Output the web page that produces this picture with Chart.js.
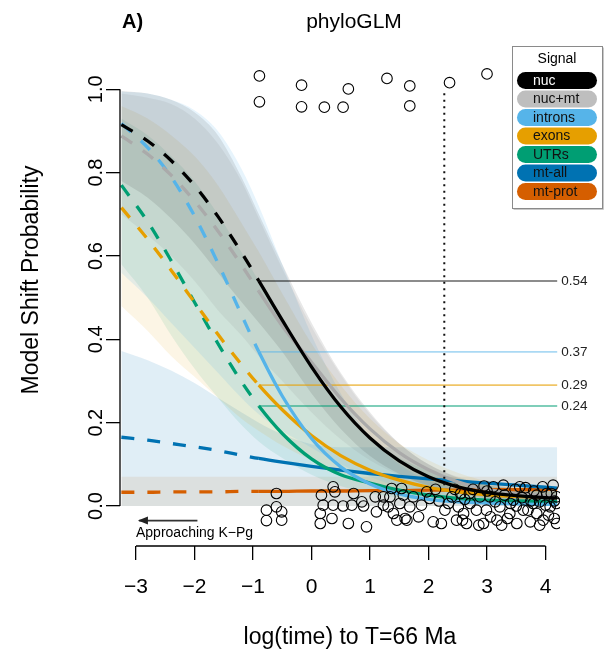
<!DOCTYPE html>
<html>
<head>
<meta charset="utf-8">
<title>phyloGLM</title>
<script src="https://cdn.jsdelivr.net/npm/chart.js@4.4.0/dist/chart.umd.min.js"></script>
<style>
  html, body { margin: 0; padding: 0; background: #fff; }
  #wrap { width: 605px; height: 662px; }
</style>
</head>
<body>
<div id="wrap"><canvas id="shiftChart" width="605" height="662"></canvas></div>
<script>
// ✅ Data
const timeGrid = [-3.25, -2.8, -2.4, -2.0, -1.6, -1.2, -0.9, -0.5, 0, 0.5, 1, 1.5, 2, 2.5, 3, 3.5, 4, 4.2];

const signals = ['nuc', 'nuc+mt', 'introns', 'exons', 'UTRs', 'mt-all', 'mt-prot'];

const nucProb    = [0.915, 0.876, 0.829, 0.769, 0.695, 0.609, 0.540, 0.446, 0.334, 0.238, 0.163, 0.108, 0.070, 0.046, 0.032, 0.025, 0.020, 0.019];
const nucMtProb  = [0.888, 0.844, 0.794, 0.732, 0.660, 0.579, 0.515, 0.432, 0.345, 0.258, 0.185, 0.128, 0.087, 0.058, 0.040, 0.030, 0.025, 0.024];
const intronProb = [0.918, 0.860, 0.790, 0.696, 0.583, 0.460, 0.370, 0.264, 0.162, 0.094, 0.053, 0.029, 0.016, 0.010, 0.007, 0.005, 0.004, 0.004];
const exonProb   = [0.716, 0.640, 0.566, 0.489, 0.412, 0.340, 0.290, 0.231, 0.169, 0.121, 0.086, 0.062, 0.045, 0.034, 0.027, 0.023, 0.021, 0.020];
const utrProb    = [0.770, 0.682, 0.589, 0.489, 0.390, 0.299, 0.240, 0.174, 0.113, 0.075, 0.055, 0.038, 0.026, 0.018, 0.014, 0.012, 0.011, 0.011];
const mtAllProb  = [0.165, 0.158, 0.150, 0.142, 0.133, 0.122, 0.114, 0.105, 0.095, 0.086, 0.078, 0.071, 0.065, 0.060, 0.055, 0.050, 0.045, 0.043];
const mtProtProb = [0.033, 0.033, 0.034, 0.034, 0.034, 0.035, 0.035, 0.035, 0.036, 0.036, 0.037, 0.037, 0.038, 0.038, 0.039, 0.039, 0.040, 0.040];

// ✅ Confidence bands (upper / lower)
const nucUpper    = [0.996, 0.990, 0.975, 0.945, 0.890, 0.790, 0.700, 0.580, 0.440, 0.320, 0.225, 0.150, 0.100, 0.068, 0.050, 0.043, 0.040, 0.039];
const nucLower    = [0.780, 0.740, 0.690, 0.630, 0.560, 0.490, 0.440, 0.370, 0.270, 0.185, 0.120, 0.077, 0.048, 0.030, 0.019, 0.012, 0.008, 0.007];
const nucMtUpper  = [0.990, 0.980, 0.965, 0.930, 0.870, 0.780, 0.690, 0.570, 0.430, 0.315, 0.220, 0.150, 0.100, 0.070, 0.052, 0.044, 0.040, 0.039];
const nucMtLower  = [0.700, 0.650, 0.600, 0.540, 0.470, 0.410, 0.360, 0.300, 0.225, 0.160, 0.110, 0.075, 0.050, 0.034, 0.023, 0.016, 0.012, 0.011];
const intronUpper = [0.995, 0.990, 0.975, 0.950, 0.900, 0.810, 0.720, 0.580, 0.410, 0.270, 0.165, 0.100, 0.060, 0.040, 0.030, 0.025, 0.020, 0.020];
const intronLower = [0.560, 0.500, 0.440, 0.380, 0.320, 0.260, 0.220, 0.180, 0.140, 0.100, 0.070, 0.045, 0.030, 0.020, 0.013, 0.009, 0.006, 0.005];
const exonUpper   = [0.960, 0.930, 0.890, 0.840, 0.770, 0.680, 0.610, 0.510, 0.390, 0.290, 0.210, 0.150, 0.110, 0.080, 0.060, 0.050, 0.045, 0.040];
const exonLower   = [0.480, 0.420, 0.360, 0.310, 0.260, 0.210, 0.180, 0.145, 0.110, 0.080, 0.055, 0.040, 0.028, 0.020, 0.014, 0.010, 0.007, 0.006];
const utrUpper    = [0.930, 0.890, 0.840, 0.780, 0.700, 0.610, 0.540, 0.440, 0.330, 0.235, 0.165, 0.115, 0.085, 0.065, 0.050, 0.040, 0.035, 0.033];
const utrLower    = [0.580, 0.500, 0.410, 0.330, 0.260, 0.195, 0.155, 0.115, 0.075, 0.048, 0.030, 0.020, 0.013, 0.009, 0.006, 0.005, 0.004, 0.004];
const mtAllUpper  = [0.372, 0.350, 0.325, 0.295, 0.260, 0.225, 0.200, 0.172, 0.148, 0.141, 0.141, 0.141, 0.141, 0.141, 0.141, 0.141, 0.141, 0.141];
const mtAllLower  = [0, 0, 0, 0, 0, 0, 0, 0, 0, 0, 0, 0, 0, 0, 0, 0, 0, 0];
const mtProtUpper = [0.07, 0.07, 0.07, 0.07, 0.07, 0.07, 0.07, 0.07, 0.07, 0.07, 0.07, 0.07, 0.07, 0.07, 0.07, 0.07, 0.07, 0.07];
const mtProtLower = [0, 0, 0, 0, 0, 0, 0, 0, 0, 0, 0, 0, 0, 0, 0, 0, 0, 0];

// ✅ Shift probabilities at the cutoff time
const cutoffTime = -0.9;
const cutoffEnd = 4.2;
const cutoffProbs = [0.54, 0.37, 0.29, 0.24];
const cutoffLabels = ['0.54', '0.37', '0.29', '0.24'];

// ✅ Dotted marker line
const markerTime = 2.27;
const markerRange = [0.05, 1.0];

// ✅ Observed shifts (1 = shift, 0 = no shift, jittered)
const shiftTimes = [
  -0.89, -0.89, -0.17, -0.17, 0.22, 0.54, 0.63, 1.29, 1.68, 1.68, 2.36, 3.00,
  -0.60, -0.77, -0.60, -0.51, -0.77, -0.51,
  0.17, 0.37, 0.40, 0.20, 0.15, 0.37, 0.54, 0.69, 0.86, 0.89, 0.15, 0.35, 0.63, 0.94, 0.72,
  1.09, 1.23, 1.11, 1.23, 1.37, 1.54, 1.57, 1.40, 1.46, 1.60, 1.68, 1.74, 1.34, 1.51, 1.31, 1.63, 1.83, 1.97,
  2.08, 2.22, 2.28, 2.34, 2.40, 2.48, 2.51, 2.60, 2.65, 2.71, 2.82, 2.94, 2.99, 3.05, 3.11, 3.17,
  3.22, 3.28, 3.39, 3.45, 3.51, 3.56, 3.62, 3.74, 3.79, 3.85, 3.96, 4.02, 4.08, 4.13, 4.19, 4.19, 4.19,
  1.88, 2.02, 2.12, 2.18, 2.45, 2.55, 2.62, 2.76, 2.88, 3.00, 3.14, 3.30, 3.35, 3.48, 3.60, 3.70,
  3.80, 3.90, 3.95, 4.05, 4.10, 4.15, 2.58, 2.86, 3.06, 3.25, 3.50, 3.75, 3.90, 4.15, 2.70, 2.95,
  3.40, 3.66, 3.85, 4.00
];
const shiftProbs = [
  1.032, 0.970, 1.010, 0.958, 0.957, 0.957, 1.001, 1.026, 1.008, 0.960, 1.016, 1.037,
  0.030, -0.010, -0.002, -0.014, -0.035, -0.034,
  0.026, 0.046, 0.034, 0.002, -0.018, 0.002, 0.000, 0.002, 0.010, 0.000, -0.042, -0.030, -0.042, -0.050, 0.030,
  0.022, 0.022, -0.014, 0.002, 0.042, 0.042, 0.026, -0.018, -0.034, -0.030, -0.002, 0.022, 0.022, 0.006, -0.002, -0.034, -0.026, 0.034,
  -0.038, -0.042, -0.010, 0.006, 0.022, -0.034, -0.002, -0.018, -0.042, 0.006, -0.010, -0.042, -0.010, 0.022, 0.046, -0.034,
  -0.002, 0.050, -0.018, 0.014, -0.042, 0.046, -0.010, -0.038, 0.006, -0.018, -0.034, 0.030, -0.002, 0.050, 0.022, -0.042, 0.006,
  0.002, 0.018, 0.040, 0.012, 0.040, 0.030, 0.016, 0.040, 0.022, 0.036, 0.010, 0.026, -0.030, 0.040, 0.020, -0.010,
  0.036, 0.010, 0.046, -0.022, 0.030, -0.030, -0.034, -0.046, -0.026, -0.046, 0.000, 0.012, -0.046, 0.012, 0.030, 0.048,
  0.006, 0.044, 0.026, 0.002
];

// ✅ Colours (Okabe-Ito)
const signalColors = ['#000000', '#AAAAAA', '#56B4E9', '#E69F00', '#009E73', '#0072B2', '#D55E00'];
const pillColors = ['#000000', '#BEBEBE', '#56B4E9', '#E69F00', '#009E73', '#0072B2', '#D55E00'];
const bandColors = [
  'rgba(0,0,0,0.09)', 'rgba(120,120,120,0.10)', 'rgba(86,180,233,0.14)', 'rgba(230,159,0,0.10)',
  'rgba(0,158,115,0.10)', 'rgba(0,114,178,0.12)', 'rgba(213,94,0,0.10)'
];
const cutoffColors = ['rgba(0,0,0,0.45)', 'rgba(86,180,233,0.5)', 'rgba(230,159,0,0.6)', 'rgba(0,158,115,0.5)'];

const FONT = '"Liberation Sans", Arial, Helvetica, sans-serif';

function toPoints(values) {
  return timeGrid.map((t, i) => ({ x: t, y: values[i] }));
}

function buildDatasets() {
  const sets = [];
  const probs = [nucProb, nucMtProb, intronProb, exonProb, utrProb, mtAllProb, mtProtProb];
  const uppers = [nucUpper, nucMtUpper, intronUpper, exonUpper, utrUpper, mtAllUpper, mtProtUpper];
  const lowers = [nucLower, nucMtLower, intronLower, exonLower, utrLower, mtAllLower, mtProtLower];

  // ✅ observed shifts on top
  sets.push({
    label: 'shifts',
    data: shiftTimes.map((t, i) => ({ x: t, y: shiftProbs[i] })),
    showLine: false,
    pointRadius: 5.3,
    pointBorderWidth: 1.1,
    pointBorderColor: '#000',
    pointBackgroundColor: 'rgba(0,0,0,0)',
    order: 1
  });

  // ✅ dotted marker
  sets.push({
    label: 'marker',
    data: [{ x: markerTime, y: markerRange[0] }, { x: markerTime, y: markerRange[1] }],
    borderColor: '#111',
    borderWidth: 2,
    borderDash: [2, 4.5],
    pointRadius: 0,
    order: 2
  });

  // ✅ fitted curves, dashed before the cutoff
  probs.forEach((vals, i) => {
    sets.push({
      label: signals[i],
      data: toPoints(vals),
      borderColor: signalColors[i],
      borderWidth: 3.3,
      pointRadius: 0,
      cubicInterpolationMode: 'monotone',
      segment: {
        borderDash: ctx => ctx.p1.parsed.x <= cutoffTime ? [13, 13] : undefined
      },
      order: 3 + i * 0.1
    });
  });

  // ✅ cutoff reference lines
  cutoffProbs.forEach((p, i) => {
    sets.push({
      label: 'cutoff ' + cutoffLabels[i],
      data: [{ x: cutoffTime, y: p }, { x: cutoffEnd, y: p }],
      borderColor: cutoffColors[i],
      borderWidth: 1.8,
      pointRadius: 0,
      order: 5
    });
  });

  // ✅ confidence bands
  uppers.forEach((up, i) => {
    sets.push({
      label: signals[i] + ' lower',
      data: toPoints(lowers[i]),
      borderWidth: 0,
      pointRadius: 0,
      fill: false,
      cubicInterpolationMode: 'monotone',
      order: 10
    });
    sets.push({
      label: signals[i] + ' upper',
      data: toPoints(up),
      borderWidth: 0,
      pointRadius: 0,
      fill: '-1',
      backgroundColor: bandColors[i],
      cubicInterpolationMode: 'monotone',
      order: 10
    });
  });
  return sets;
}

function pill(ctx, x, y, w, h) {
  const r = h / 2;
  ctx.beginPath();
  ctx.moveTo(x + r, y);
  ctx.lineTo(x + w - r, y);
  ctx.arc(x + w - r, y + r, r, -Math.PI / 2, Math.PI / 2);
  ctx.lineTo(x + r, y + h);
  ctx.arc(x + r, y + r, r, Math.PI / 2, Math.PI * 1.5);
  ctx.closePath();
}

const decorPlugin = {
  id: 'decor',
  beforeDraw(chart) {
    const ctx = chart.ctx;
    ctx.save();
    ctx.fillStyle = '#fff';
    ctx.fillRect(0, 0, chart.width, chart.height);
    ctx.restore();
  },
  afterDraw(chart) {
    const ctx = chart.ctx;
    const xs = chart.scales.x;
    const ys = chart.scales.y;
    const area = chart.chartArea;
    ctx.save();

    // axis lines
    ctx.strokeStyle = '#000';
    ctx.lineWidth = 1.3;
    ctx.beginPath();
    ctx.moveTo(area.left, ys.getPixelForValue(0));
    ctx.lineTo(area.left, ys.getPixelForValue(1));
    ctx.moveTo(xs.getPixelForValue(-3), area.bottom);
    ctx.lineTo(xs.getPixelForValue(4), area.bottom);
    ctx.stroke();

    // titles
    ctx.fillStyle = '#000';
    ctx.textBaseline = 'middle';
    ctx.textAlign = 'left';
    ctx.font = 'bold 20px ' + FONT;
    ctx.fillText('A)', 122, 22);
    ctx.textAlign = 'center';
    ctx.font = '21px ' + FONT;
    ctx.fillText('phyloGLM', 354, 22);
    ctx.font = '23px ' + FONT;
    ctx.fillText('log(time) to T=66 Ma', 350, 638);
    ctx.save();
    ctx.translate(32, 280);
    ctx.rotate(-Math.PI / 2);
    ctx.fillText('Model Shift Probability', 0, 0);
    ctx.restore();

    // cutoff labels
    ctx.textAlign = 'left';
    ctx.font = '13.5px ' + FONT;
    ctx.fillStyle = '#222';
    cutoffProbs.forEach((p, i) => {
      ctx.fillText(cutoffLabels[i], xs.getPixelForValue(cutoffEnd) + 4, ys.getPixelForValue(p));
    });

    // arrow + note
    const ay = ys.getPixelForValue(-0.035);
    const ax0 = xs.getPixelForValue(-1.95);
    const ax1 = xs.getPixelForValue(-2.95);
    ctx.strokeStyle = '#333';
    ctx.lineWidth = 1.6;
    ctx.beginPath();
    ctx.moveTo(ax0, ay);
    ctx.lineTo(ax1, ay);
    ctx.stroke();
    ctx.fillStyle = '#222';
    ctx.beginPath();
    ctx.moveTo(ax1 - 1, ay);
    ctx.lineTo(ax1 + 9, ay - 4);
    ctx.lineTo(ax1 + 9, ay + 4);
    ctx.closePath();
    ctx.fill();
    ctx.fillStyle = '#000';
    ctx.font = '14px ' + FONT;
    ctx.fillText('Approaching K\u2212Pg', xs.getPixelForValue(-3), ys.getPixelForValue(-0.065));

    // legend
    const lx = 512, ly = 46, lw = 90, lh = 162;
    ctx.fillStyle = '#fff';
    ctx.fillRect(lx, ly, lw, lh);
    ctx.strokeStyle = '#c8c8c8';
    ctx.lineWidth = 1;
    ctx.beginPath();
    ctx.moveTo(lx + 1.5, ly + lh + 1.5);
    ctx.lineTo(lx + lw + 1.5, ly + lh + 1.5);
    ctx.lineTo(lx + lw + 1.5, ly + 1.5);
    ctx.stroke();
    ctx.strokeStyle = '#8a8a8a';
    ctx.strokeRect(lx + 0.5, ly + 0.5, lw, lh);
    ctx.fillStyle = '#000';
    ctx.textAlign = 'center';
    ctx.font = '14px ' + FONT;
    ctx.fillText('Signal', lx + lw / 2, 59);
    ctx.textAlign = 'left';
    signals.forEach((name, i) => {
      const top = 72 + i * 18.5;
      ctx.fillStyle = pillColors[i];
      pill(ctx, 517, top, 80, 17);
      ctx.fill();
      ctx.fillStyle = i === 0 ? '#fff' : '#111';
      ctx.fillText(name, 533, top + 9);
    });

    ctx.restore();
  }
};

document.addEventListener('DOMContentLoaded', function () {
  const canvas = document.getElementById('shiftChart');
  if (!canvas) {
    console.warn('Canvas not found.');
    return;
  }
  Chart.defaults.font.family = FONT;
  Chart.defaults.color = '#000';

  new Chart(canvas.getContext('2d'), {
    type: 'line',
    data: { datasets: buildDatasets() },
    plugins: [decorPlugin],
    options: {
      responsive: false,
      animation: false,
      events: [],
      layout: { padding: { top: 48, right: 45, bottom: 0, left: 0 } },
      plugins: { legend: { display: false }, tooltip: { enabled: false } },
      scales: {
        x: {
          type: 'linear',
          min: -3.2735,
          max: 4.248,
          border: { display: false },
          grid: { drawOnChartArea: false, drawTicks: true, tickLength: 14, color: '#000', lineWidth: 1.3 },
          ticks: {
            stepSize: 1,
            includeBounds: false,
            autoSkip: false,
            maxRotation: 0,
            padding: 15,
            font: { size: 21 },
            color: '#000',
            callback: v => (v < 0 ? '\u2212' + Math.abs(v) : String(v))
          },
          afterFit: scale => { scale.height = 116; }
        },
        y: {
          type: 'linear',
          min: -0.096,
          max: 1.0991,
          border: { display: false },
          grid: { drawOnChartArea: false, drawTicks: true, tickLength: 14, color: '#000', lineWidth: 1.3 },
          ticks: {
            stepSize: 0.2,
            includeBounds: false,
            minRotation: 90,
            maxRotation: 90,
            crossAlign: 'center',
            padding: -4,
            font: { size: 20 },
            color: '#000',
            callback: v => Number(v).toFixed(1)
          },
          afterFit: scale => { scale.width = 120; }
        }
      }
    }
  });
});
</script>
</body>
</html>
